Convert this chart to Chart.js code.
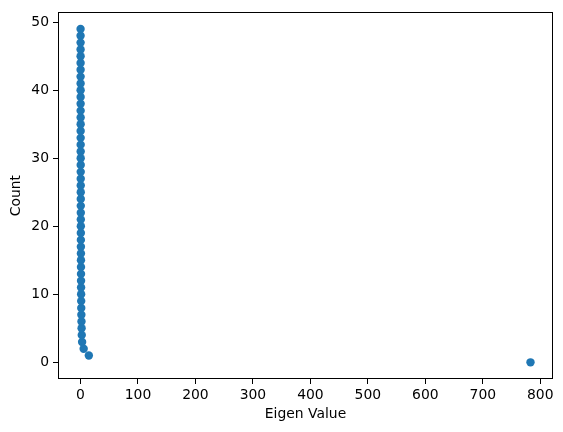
<!DOCTYPE html>
<html>
<head>
<meta charset="utf-8">
<script src="https://cdn.jsdelivr.net/npm/chart.js@4/dist/chart.umd.min.js"></script>
<style>
  html, body { margin: 0; padding: 0; background: #fff; }
  #wrap { width: 563px; height: 432px; }
</style>
</head>
<body>
<div id="wrap"><canvas id="c" width="563" height="432"></canvas></div>
<script>
const counts = [0,1,2,3,4,5,6,7,8,9,10,11,12,13,14,15,16,17,18,19,20,21,22,23,24,25,26,27,28,29,30,31,32,33,34,35,36,37,38,39,40,41,42,43,44,45,46,47,48,49];
const eigenValues = [783, 14.5, 5.5, 2.8, 2.2, 1.9, 1.7, 1.5, 1.3, 1.2, 1.1, 1.0, 0.95, 0.9, 0.85, 0.8, 0.75, 0.7, 0.65, 0.6, 0.58, 0.55, 0.52, 0.5, 0.48, 0.45, 0.43, 0.4, 0.38, 0.36, 0.34, 0.32, 0.3, 0.28, 0.27, 0.26, 0.25, 0.24, 0.23, 0.22, 0.21, 0.2, 0.19, 0.18, 0.17, 0.16, 0.15, 0.14, 0.13, 0.12];
const xTicks = [0, 100, 200, 300, 400, 500, 600, 700, 800];
const yTicks = [0, 10, 20, 30, 40, 50];
const xLabel = 'Eigen Value';
const yLabel = 'Count';

const points = eigenValues.map((v, i) => ({ x: v, y: counts[i] }));

const FONT = "'DejaVu Sans', sans-serif";

const boxPlugin = {
  id: 'box',
  afterDatasetsDraw(chart) {
    const { ctx, chartArea: a } = chart;
    ctx.save();
    ctx.strokeStyle = '#000';
    ctx.lineWidth = 1;
    ctx.strokeRect(Math.round(a.left) + 0.5, Math.round(a.top) + 0.5,
                   Math.round(a.right - a.left) - 1, Math.round(a.bottom - a.top) - 1);
    ctx.restore();
  }
};

new Chart(document.getElementById('c'), {
  type: 'scatter',
  data: {
    datasets: [{
      data: points,
      backgroundColor: '#1f77b4',
      borderColor: '#1f77b4',
      borderWidth: 0,
      pointRadius: 4.2,
      pointHoverRadius: 4.2
    }]
  },
  options: {
    responsive: false,
    animation: false,
    devicePixelRatio: 1,
    layout: { padding: { top: 9, right: 10, left: 0, bottom: 0 } },
    plugins: { legend: { display: false }, tooltip: { enabled: false } },
    scales: {
      x: {
        type: 'linear',
        min: -39.15,
        max: 822.15,
        afterBuildTicks(s) { s.ticks = xTicks.map(v => ({ value: v })); },
        afterFit(s) { s.height = 53; },
        grid: { display: true, drawOnChartArea: false, drawTicks: true, tickLength: 5, color: '#000', tickWidth: 1 },
        border: { display: false },
        ticks: { color: '#000', font: { family: FONT, size: 13.9 }, padding: 3, maxRotation: 0, autoSkip: false },
        title: { display: true, text: xLabel, color: '#000', font: { family: FONT, size: 13.9 }, padding: { top: 2, bottom: 9 } }
      },
      y: {
        type: 'linear',
        min: -2.45,
        max: 51.45,
        afterBuildTicks(s) { s.ticks = yTicks.map(v => ({ value: v })); },
        afterFit(s) { s.width = 58; },
        grid: { display: true, drawOnChartArea: false, drawTicks: true, tickLength: 5, color: '#000', tickWidth: 1 },
        border: { display: false },
        ticks: { color: '#000', font: { family: FONT, size: 13.9 }, padding: 4, autoSkip: false },
        title: { display: true, text: yLabel, color: '#000', font: { family: FONT, size: 13.9 }, padding: { top: 8, bottom: 0 } }
      }
    }
  },
  plugins: [boxPlugin]
});
</script>
</body>
</html>
